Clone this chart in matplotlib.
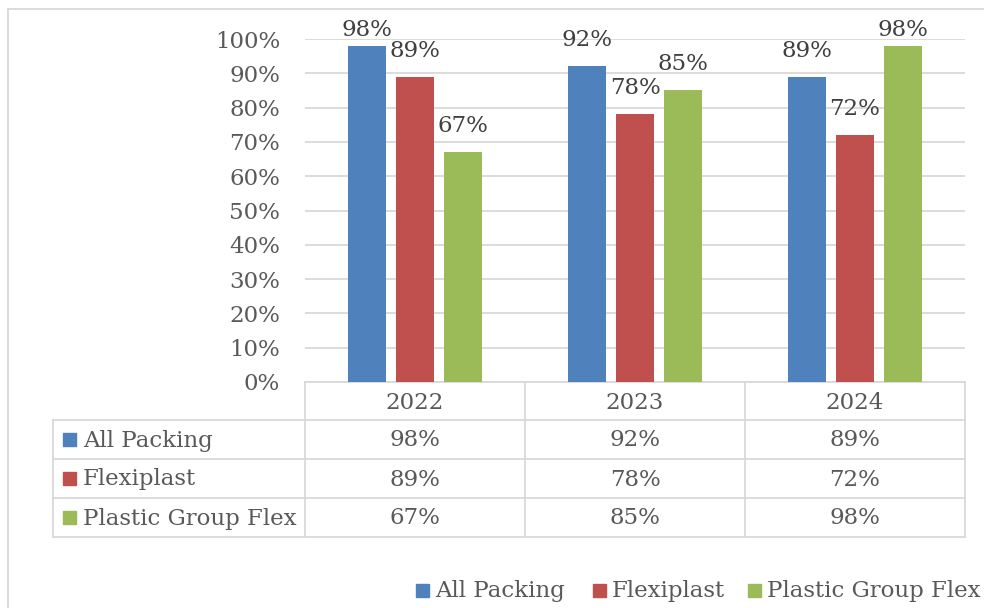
import matplotlib
matplotlib.use("Agg")
import matplotlib.pyplot as plt
from matplotlib.patches import Rectangle

categories = ["2022", "2023", "2024"]
series_names = ["All Packing", "Flexiplast", "Plastic Group Flex"]
all_packing = [0.98, 0.92, 0.89]
flexiplast = [0.89, 0.78, 0.72]
plastic_group_flex = [0.67, 0.85, 0.98]
yticks = [0.0, 0.1, 0.2, 0.3, 0.4, 0.5, 0.6, 0.7, 0.8, 0.9, 1.0]

series_values = [all_packing, flexiplast, plastic_group_flex]
colors = ["#4F81BD", "#C0504D", "#9BBB59"]
grid_c = "#D9D9D9"
txt_c = "#595959"
lab_c = "#404040"
FONT = "DejaVu Serif"
FS = 16.5

W, H = 984, 608
fig = plt.figure(figsize=(W / 100, H / 100), dpi=100)
fig.patch.set_facecolor("white")

# plot area in pixels
px_l, px_r, px_t, px_b = 305, 965, 39, 382
ax = fig.add_axes([px_l / W, 1 - px_b / H, (px_r - px_l) / W, (px_b - px_t) / H])
ax.set_xlim(-0.5, len(categories) - 0.5)
ax.set_ylim(0, 1.0)
for s in ax.spines.values():
    s.set_visible(False)
ax.set_xticks([])
ax.set_yticks(yticks)
ax.tick_params(axis="y", length=0, pad=18, labelsize=FS, labelcolor=txt_c)
ax.set_yticklabels([f"{int(round(t * 100))}%" for t in yticks], fontfamily=FONT)
ax.yaxis.grid(True, color=grid_c, linewidth=1.3)
ax.set_axisbelow(True)
ax.patch.set_alpha(0)

bw = 0.173
offs = [-0.22, 0.0, 0.22]
for si, vals in enumerate(series_values):
    xs = [i + offs[si] for i in range(len(categories))]
    ax.bar(xs, vals, width=bw, color=colors[si], zorder=3)
    for x, v in zip(xs, vals):
        top_px = px_b - v * (px_b - px_t)
        off_px = min(26, top_px - 30)
        ax.annotate(f"{int(round(v * 100))}%", (x, v), xytext=(0, off_px * 0.72),
                    textcoords="offset points", ha="center", va="center",
                    fontsize=FS, color=lab_c, fontfamily=FONT, annotation_clip=False)

# overlay in pixel coordinates for table, legend, frame
ov = fig.add_axes([0, 0, 1, 1], zorder=-1)
ov.set_xlim(0, W)
ov.set_ylim(H, 0)
ov.axis("off")

lw = 1.3
# outer chart frame
ov.plot([8, 8], [9, H + 5], color=grid_c, lw=lw)
ov.plot([8, W + 5], [9, 9], color=grid_c, lw=lw)

# data table
col_x = [305, 525, 745, 965]
tab_left = 53
row_y = [382, 420, 459, 498, 537]
ov.plot([col_x[0], col_x[-1]], [row_y[0], row_y[0]], color=grid_c, lw=lw)
for y in row_y[1:]:
    ov.plot([tab_left, col_x[-1]], [y, y], color=grid_c, lw=lw)
for x in col_x:
    ov.plot([x, x], [row_y[0], row_y[-1]], color=grid_c, lw=lw)
ov.plot([tab_left, tab_left], [row_y[1], row_y[-1]], color=grid_c, lw=lw)

for ci, cat in enumerate(categories):
    cx = (col_x[ci] + col_x[ci + 1]) / 2
    ov.text(cx, (row_y[0] + row_y[1]) / 2 + 2, cat, ha="center", va="center",
            fontsize=FS, color=txt_c, fontfamily=FONT)
for ri, name in enumerate(series_names):
    cy = (row_y[ri + 1] + row_y[ri + 2]) / 2
    ov.add_patch(Rectangle((63, cy - 6.5), 13, 13, color=colors[ri]))
    ov.text(83, cy + 1, name, ha="left", va="center", fontsize=FS, color=txt_c,
            fontfamily=FONT)
    for ci, v in enumerate(series_values[ri]):
        cx = (col_x[ci] + col_x[ci + 1]) / 2
        ov.text(cx, cy + 1, f"{int(round(v * 100))}%", ha="center", va="center",
                fontsize=FS, color=txt_c, fontfamily=FONT)

# bottom legend
leg_sq = [416, 593, 748]
leg_y = 590
for i, name in enumerate(series_names):
    ov.add_patch(Rectangle((leg_sq[i], leg_y - 6.5), 13, 13, color=colors[i]))
    ov.text(leg_sq[i] + 19, leg_y + 1, name, ha="left", va="center", fontsize=FS,
            color=txt_c, fontfamily=FONT)

fig.savefig("out.png", dpi=100, facecolor="white")
